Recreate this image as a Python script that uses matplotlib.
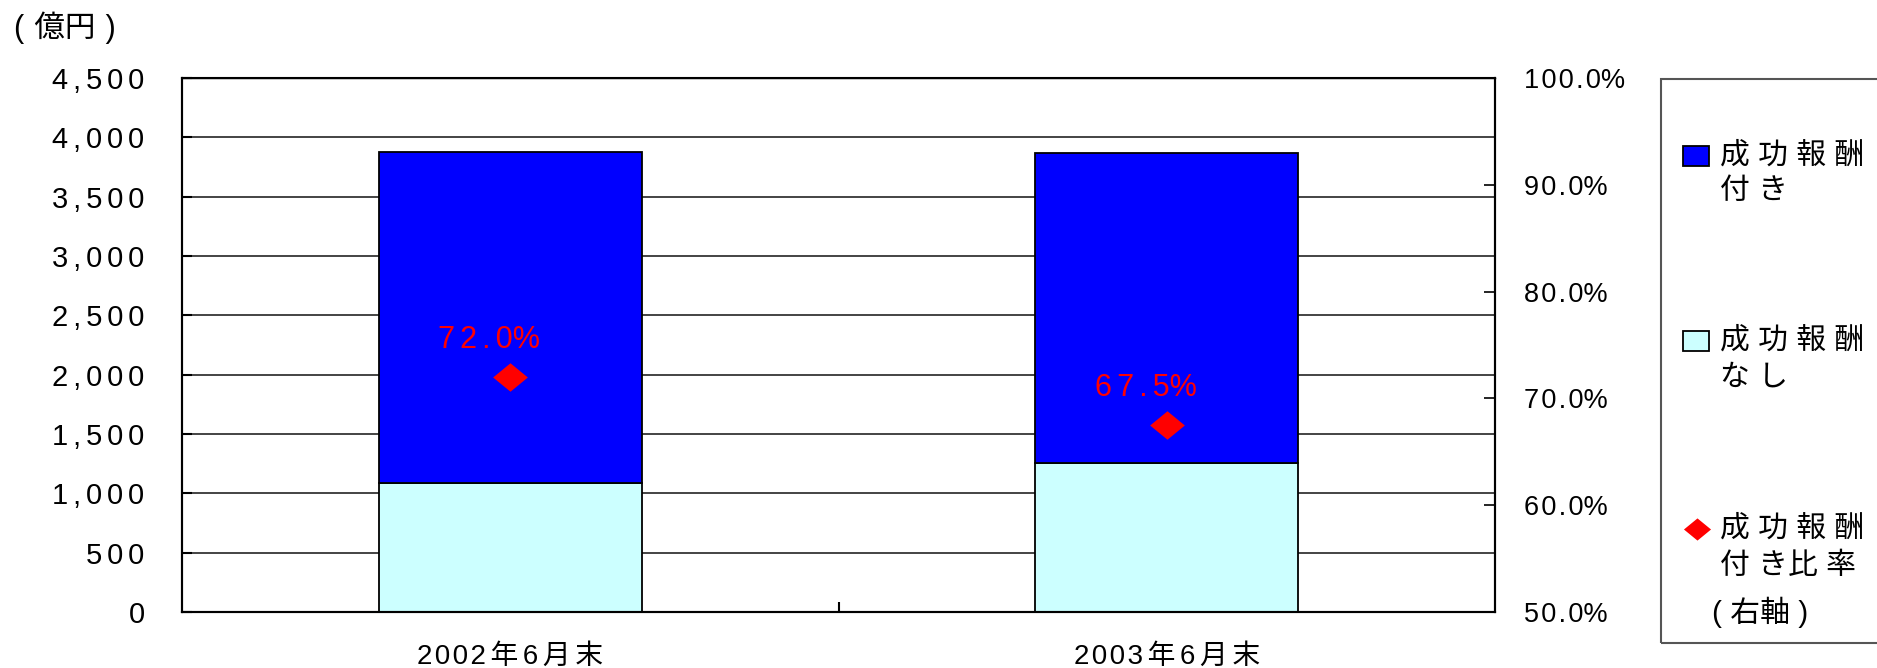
import numpy as np
import matplotlib
matplotlib.use("Agg")
import matplotlib.pyplot as plt
from matplotlib.path import Path
from matplotlib.patches import Rectangle
from matplotlib.lines import Line2D

plt.rcParams['font.family'] = ['Liberation Sans', 'Noto Sans CJK JP', 'DejaVu Sans']

# データ（億円）
periods = ['2002年6月末', '2003年6月末']
without_fee = [1088, 1258]     # 成功報酬なし
with_fee = [2792, 2612]        # 成功報酬付き
fee_ratio = [0.720, 0.675]     # 成功報酬付き比率（右軸）

left_ticks = [0, 500, 1000, 1500, 2000, 2500, 3000, 3500, 4000, 4500]
right_ticks = [0.5, 0.6, 0.7, 0.8, 0.9, 1.0]

c_with = '#0000FF'
c_without = '#CCFFFF'
c_ratio = '#FF0000'

SIXTH = '\u2006'
HAIR = '\u200a'

# 文字間を空ける（%の前は詰める）
def spaced(s, sep=SIXTH):
    return sep.join(s).replace(sep + '%', '%')

# 横長のひし形マーカー
diamond = Path([(-1, 0), (0, 0.82), (1, 0), (0, -0.82), (-1, 0)],
               [Path.MOVETO, Path.LINETO, Path.LINETO, Path.LINETO, Path.CLOSEPOLY])

fig = plt.figure(figsize=(18.77, 6.68), dpi=100)
ax = fig.add_axes([0.0970, 0.0838, 0.6995, 0.7994])

x = np.arange(len(periods))
ax.bar(x, without_fee, width=0.4, color=c_without, edgecolor='black', linewidth=1.3, zorder=2)
ax.bar(x, with_fee, width=0.4, bottom=without_fee, color=c_with, edgecolor='black', linewidth=1.3, zorder=2)

ax.set_xlim(-0.5, 1.5)
ax.set_ylim(0, 4500)
ax.set_yticks(left_ticks)
ax.set_yticklabels([spaced(f'{v:,}') for v in left_ticks], fontsize=21)
ax.set_axisbelow(True)
ax.yaxis.grid(True, color='#111111', linewidth=1.1)
ax.tick_params(axis='y', direction='in', length=7.5, width=1.5, pad=27)

ax.set_xticks(x)
ax.set_xticklabels([spaced(p[:4], HAIR) + SIXTH + spaced(p[4:]) for p in periods], fontsize=20)
ax.tick_params(axis='x', which='major', length=0, pad=23)
ax.set_xticks([0.5], minor=True)
ax.tick_params(axis='x', which='minor', direction='in', length=7.5, width=1.5)

for s in ax.spines.values():
    s.set_linewidth(1.5)
    s.set_color('black')
ax.spines['top'].set_linewidth(1.0)

ax2 = ax.twinx()
ax2.set_ylim(0.5, 1.0)
ax2.set_yticks(right_ticks)
ax2.set_yticklabels([spaced(f'{v * 100:.1f}%', HAIR) for v in right_ticks], fontsize=19.5)
ax2.tick_params(axis='y', direction='in', length=8, width=1.2, pad=21)
for s in ax2.spines.values():
    s.set_linewidth(1.5)

ax2.plot(x, fee_ratio, linestyle='none', marker=diamond, markersize=25,
         color=c_ratio, markeredgewidth=0, zorder=5)
for xi, r in zip(x, fee_ratio):
    ax2.annotate(spaced(f'{r * 100:.1f}%'), (xi, r), xytext=(-15, 21),
                 textcoords='offset points', ha='center', va='baseline',
                 color=c_ratio, fontsize=22)

fig.text(0.0075, 0.958, '(\u2004億円\u2004)', fontsize=22, ha='left', va='center')

# 凡例
fig.patches.append(Rectangle((0.885, 0.0374), 0.2, 0.8443, transform=fig.transFigure,
                             facecolor='none', edgecolor='#555555', linewidth=1.5))

def legend_box(y, color):
    w, h = 26 / 1877, 20 / 668
    fig.patches.append(Rectangle((1696 / 1877 - w / 2, 1 - y / 668 - h / 2), w, h,
                                 transform=fig.transFigure, facecolor=color,
                                 edgecolor='black', linewidth=1.3))

legend_box(156, c_with)
legend_box(341, c_without)
fig.lines.append(Line2D([1697 / 1877], [1 - 529 / 668], transform=fig.transFigure,
                        marker=diamond, markersize=19.5, color=c_ratio,
                        markeredgewidth=0, linestyle='none'))

tx = 1720 / 1877
for text, y in [('成 功 報 酬', 156), ('付 き', 191),
                ('成 功 報 酬', 341), ('な し', 378),
                ('成 功 報 酬', 529), ('付 き比 率', 566)]:
    fig.text(tx, 1 - y / 668, text, fontsize=21.5, ha='left', va='center')
fig.text(1712 / 1877, 1 - 612 / 668, '( 右軸 )', fontsize=21.5, ha='left', va='center')

fig.savefig('out.png', dpi=100)
